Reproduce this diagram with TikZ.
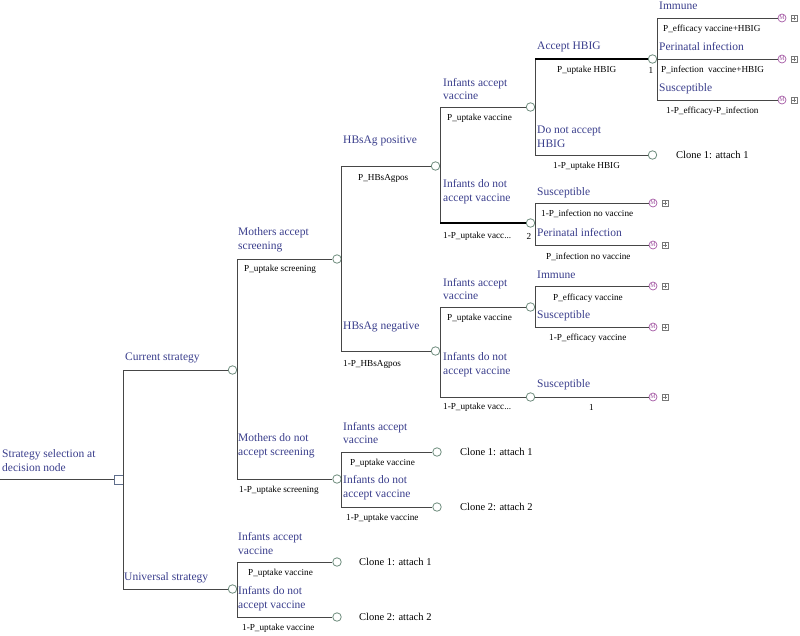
\documentclass[tikz,border=0pt]{standalone}
\usepackage{fontspec}
\setmainfont{Liberation Serif}
\definecolor{bluecol}{RGB}{58,62,140}
\definecolor{linecol}{RGB}{70,70,70}
\definecolor{chancecol}{RGB}{110,140,125}
\definecolor{markcol}{RGB}{165,90,165}
\definecolor{deccol}{RGB}{95,110,140}
\definecolor{boxcol}{RGB}{120,120,120}
\tikzset{
  chance/.style={circle, draw=chancecol, fill=white, line width=0.8pt, minimum size=8.5pt, inner sep=0pt},
  markov/.style={circle, draw=markcol, fill=white, line width=0.7pt, minimum size=8pt, inner sep=0pt, text=markcol, font=\fontsize{6}{6}\selectfont},
  plusbox/.style={rectangle, draw=boxcol, fill=white, line width=0.5pt, minimum size=6.5pt, inner sep=0pt,
    path picture={\draw[boxcol, line width=0.6pt] ([xshift=-2pt]path picture bounding box.center) -- ([xshift=2pt]path picture bounding box.center)
      ([yshift=-2pt]path picture bounding box.center) -- ([yshift=2pt]path picture bounding box.center);}},
  decision/.style={rectangle, draw=deccol, fill=white, line width=0.8pt, minimum size=9pt, inner sep=0pt},
  branch/.style={draw=linecol, line width=0.9pt},
  boldbranch/.style={draw=black, line width=2.2pt},
  blab/.style={anchor=west, font=\fontsize{11.5}{13.8}\selectfont, text=bluecol, align=left, inner sep=0pt},
  plab/.style={anchor=west, font=\fontsize{9.2}{10}\selectfont, inner sep=0pt},
  clab/.style={anchor=west, font=\fontsize{10.5}{12}\selectfont, inner sep=0pt}
}
\begin{document}
\begin{tikzpicture}[x=1pt,y=-1pt]
\useasboundingbox (0,0) rectangle (800,635);
% ---------- nodes ----------
\coordinate (root) at (0,479.5);
\node[decision] (dec) at (118.5,479.5) {};
\node[chance] (cur) at (232.5,370) {};
\node[chance] (uni) at (232.5,589) {};
\node[chance] (mA) at (337,259) {};
\node[chance] (mN) at (337,479) {};
\node[chance] (hP) at (435.5,166) {};
\node[chance] (hN) at (435.5,351) {};
\node[chance] (pA) at (530.5,107) {};
\node[chance] (pN) at (530.5,223) {};
\node[chance] (aH) at (652.5,59) {};
\node[chance] (dH) at (652.5,155) {};
\node[chance] (nA) at (530.5,307) {};
\node[chance] (nN) at (530.5,397) {};
\node[chance] (mnA) at (437,452) {};
\node[chance] (mnN) at (437,507) {};
\node[chance] (uA) at (337,562) {};
\node[chance] (uN) at (337,617) {};
% markov terminals
\node[markov] (M1) at (782,18) {M};  \node[plusbox] (B1) at (794,18) {};
\node[markov] (M2) at (782,59) {M};  \node[plusbox] (B2) at (794,59) {};
\node[markov] (M3) at (782,100) {M}; \node[plusbox] (B3) at (794,100) {};
\node[markov] (M4) at (653,203) {M}; \node[plusbox] (B4) at (665,203) {};
\node[markov] (M5) at (653,245) {M}; \node[plusbox] (B5) at (665,245) {};
\node[markov] (M6) at (653,286) {M}; \node[plusbox] (B6) at (665,286) {};
\node[markov] (M7) at (653,327) {M}; \node[plusbox] (B7) at (665,327) {};
\node[markov] (M8) at (653,397) {M}; \node[plusbox] (B8) at (665,397) {};
% ---------- connectors ----------
\draw[branch] (root) -- (dec.west);
\draw[branch] (dec.east) |- (cur.west);
\draw[branch] (dec.east) |- (uni.west);
\draw[branch] (cur.east) |- (mA.west);
\draw[branch] (cur.east) |- (mN.west);
\draw[branch] (mA.east) |- (hP.west);
\draw[branch] (mA.east) |- (hN.west);
\draw[branch] (hP.east) |- (pA.west);
\draw[branch] (hP.east) |- (pN.west);
\draw[boldbranch] (hP.east |- pN.west) -- (pN.west);
\draw[branch] (pA.east) |- (aH.west);
\draw[boldbranch] (pA.east |- aH.west) -- (aH.west);
\draw[branch] (pA.east) |- (dH.west);
\draw[branch] (aH.east) |- (M1.west);
\draw[branch] (aH.east) -- (M2.west);
\draw[branch] (aH.east) |- (M3.west);
\draw[branch] (pN.east) |- (M4.west);
\draw[branch] (pN.east) |- (M5.west);
\draw[branch] (hN.east) |- (nA.west);
\draw[branch] (hN.east) |- (nN.west);
\draw[branch] (nA.east) |- (M6.west);
\draw[branch] (nA.east) |- (M7.west);
\draw[branch] (nN.east) -- (M8.west);
\draw[branch] (mN.east) |- (mnA.west);
\draw[branch] (mN.east) |- (mnN.west);
\draw[branch] (uni.east) |- (uA.west);
\draw[branch] (uni.east) |- (uN.west);
% ---------- branch labels ----------
\node[blab] (t1) at (2,460.5) {Strategy selection at\\decision node};
\node[blab] (t2) at (125,358) {Current strategy};
\node[blab] (t3) at (124,578) {Universal strategy};
\node[blab] (t4) at (238,240) {Mothers accept\\screening};
\node[blab] (t5) at (238,446) {Mothers do not\\accept screening};
\node[blab] (t6) at (343,141) {HBsAg positive};
\node[blab] (t7) at (343,327) {HBsAg negative};
\node[blab] (t8) at (443,89) {Infants accept\\vaccine};
\node[blab] (t9) at (443,192) {Infants do not\\accept vaccine};
\node[blab] (t10) at (537,47) {Accept HBIG};
\node[blab] (t11) at (537,137) {Do not accept\\HBIG};
\node[blab] (t12) at (659,6) {Immune};
\node[blab] (t13) at (659,47) {Perinatal infection};
\node[blab] (t14) at (659,89) {Susceptible};
\node[blab] (t15) at (537,193) {Susceptible};
\node[blab] (t16) at (537,233) {Perinatal infection};
\node[blab] (t17) at (443,289) {Infants accept\\vaccine};
\node[blab] (t18) at (443,364.5) {Infants do not\\accept vaccine};
\node[blab] (t19) at (537,275) {Immune};
\node[blab] (t20) at (537,316) {Susceptible};
\node[blab] (t21) at (537,385) {Susceptible};
\node[blab] (t22) at (343,433) {Infants accept\\vaccine};
\node[blab] (t23) at (343,488) {Infants do not\\accept vaccine};
\node[blab] (t24) at (238,543.5) {Infants accept\\vaccine};
\node[blab] (t25) at (238,599) {Infants do not\\accept vaccine};
% ---------- probability labels ----------
\node[plab] (p1) at (244,269) {P\_uptake screening};
\node[plab] (p2) at (239,490) {1-P\_uptake screening};
\node[plab] (p3) at (358,178) {P\_HBsAgpos};
\node[plab] (p4) at (343,364) {1-P\_HBsAgpos};
\node[plab] (p5) at (447,118) {P\_uptake vaccine};
\node[plab] (p6) at (443,236) {1-P\_uptake vacc...};
\node[plab] (p6n) at (526.5,236) {2};
\node[plab] (p7) at (557,70) {P\_uptake HBIG};
\node[plab] (p7n) at (648.5,70) {1};
\node[plab] (p8) at (553,166) {1-P\_uptake HBIG};
\node[plab] (p9) at (663,29) {P\_efficacy vaccine+HBIG};
\node[plab] (p10) at (661,70) {P\_infection\ \ vaccine+HBIG};
\node[plab] (p11) at (666,111) {1-P\_efficacy-P\_infection};
\node[plab] (p12) at (541,214) {1-P\_infection no vaccine};
\node[plab] (p13) at (546,257) {P\_infection no vaccine};
\node[plab] (p14) at (447,318) {P\_uptake vaccine};
\node[plab] (p15) at (553,298) {P\_efficacy vaccine};
\node[plab] (p16) at (549,338) {1-P\_efficacy vaccine};
\node[plab] (p17) at (443,407) {1-P\_uptake vacc...};
\node[plab] (p18) at (589,407) {1};
\node[plab] (p19) at (350,463) {P\_uptake vaccine};
\node[plab] (p20) at (346,518) {1-P\_uptake vaccine};
\node[plab] (p21) at (248,573) {P\_uptake vaccine};
\node[plab] (p22) at (242,628) {1-P\_uptake vaccine};
% ---------- clone labels ----------
\node[clab] (c1) at (676,155) {Clone 1: attach 1};
\node[clab] (c2) at (460,452) {Clone 1: attach 1};
\node[clab] (c3) at (460,507) {Clone 2: attach 2};
\node[clab] (c4) at (359,562) {Clone 1: attach 1};
\node[clab] (c5) at (359,617) {Clone 2: attach 2};
\end{tikzpicture}
\end{document}
